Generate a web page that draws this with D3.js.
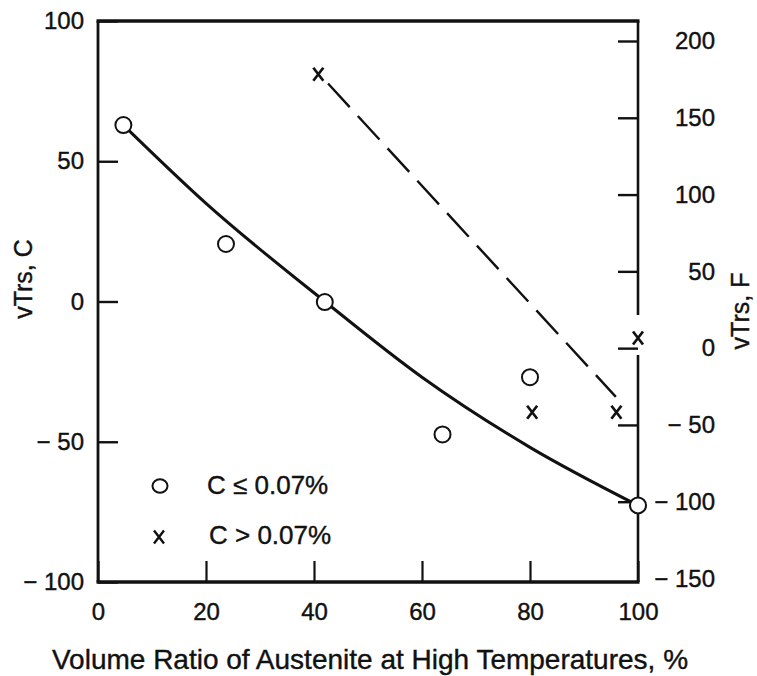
<!DOCTYPE html>
<html>
<head>
<meta charset="utf-8">
<script src="https://cdn.jsdelivr.net/npm/d3@7"></script>
<style>
  body { margin: 0; background: #fff; }
  svg { display: block; font-family: "Liberation Sans", Arial, sans-serif; }
  text { fill: #111; stroke: #111; stroke-width: 0.4; }
</style>
</head>
<body>
<svg width="757" height="676"></svg>
<script>
// values
const lowCX = [4.7, 23.7, 42.0, 63.8, 80.0, 100];     // C <= 0.07%
const lowCY = [62.9, 20.5, -0.2, -47.4, -27.0, -72.7];
const highCX = [40.8, 80.4, 96.0, 100];               // C > 0.07%
const highCY = [81.0, -39.5, -39.5, -13];
const fitX = [4.7, 20, 42, 60, 80, 100];               // solid trend curve
const fitY = [62.9, 35, 0, -27, -52, -72.7];
const dashX = [42.6, 95.9];                            // dashed trend line
const dashY = [77.7, -34];
const xTicks = [0, 20, 40, 60, 80, 100];
const cTicks = [100, 50, 0, -50, -100];
const fTicks = [200, 150, 100, 50, 0, -50, -100, -150];

const svg = d3.select("svg");
const plotL = 98, plotR = 638, plotT = 21, plotB = 582;

const x = d3.scaleLinear().domain([0, 100]).range([plotL, plotR]);
const y = d3.scaleLinear().domain([-100, 100]).range([plotB, plotT]);
// Fahrenheit scale as printed on the right side
const yF = d3.scaleLinear().domain([-150, 200]).range([578.5, 41]);

const minus = d => d < 0 ? "\u2212 " + Math.abs(d) : String(d);

// left axis (C)
const gL = svg.append("g").attr("transform", `translate(${plotL},0)`)
  .call(d3.axisLeft(y).tickValues(cTicks).tickSize(-20).tickPadding(14).tickFormat(minus));
gL.select(".domain").remove();
gL.selectAll(".tick line").attr("stroke", "#111").attr("stroke-width", 2.4);
gL.selectAll(".tick text").attr("font-size", 24);

// bottom axis
const gB = svg.append("g").attr("transform", `translate(0,${plotB})`)
  .call(d3.axisBottom(x).tickValues(xTicks).tickSize(-21).tickPadding(21));
gB.select(".domain").remove();
gB.selectAll(".tick line").attr("stroke", "#111").attr("stroke-width", 2.2);
gB.selectAll(".tick text").attr("font-size", 24);

// right axis (F)
const gR = svg.append("g").attr("transform", `translate(${plotR},0)`)
  .call(d3.axisRight(yF).tickValues(fTicks).tickSize(-20).tickFormat(minus));
gR.select(".domain").remove();
gR.selectAll(".tick line").attr("stroke", "#111").attr("stroke-width", 2.4)
  .attr("display", d => d === -150 ? "none" : null);
gR.selectAll(".tick text").attr("font-size", 24)
  .attr("text-anchor", "end").attr("x", 77);

// frame, right side broken where the last cross sits on it
const gapY = y(highCY[3]);
const frame = svg.append("g").attr("stroke", "#111").attr("fill", "none");
frame.append("line").attr("x1", plotL - 1.5).attr("x2", plotR + 1.5).attr("y1", plotT).attr("y2", plotT).attr("stroke-width", 3.4);
frame.append("line").attr("x1", plotL - 1.5).attr("x2", plotR + 1.5).attr("y1", plotB).attr("y2", plotB).attr("stroke-width", 3.4);
frame.append("line").attr("x1", plotL).attr("x2", plotL).attr("y1", plotT).attr("y2", plotB).attr("stroke-width", 2.8);
frame.append("line").attr("x1", plotR).attr("x2", plotR).attr("y1", plotT).attr("y2", gapY - 23).attr("stroke-width", 2.6);
frame.append("line").attr("x1", plotR).attr("x2", plotR).attr("y1", gapY + 17).attr("y2", plotB).attr("stroke-width", 2.6);

// trend lines
const fitLine = d3.line().x(d => x(d[0])).y(d => y(d[1])).curve(d3.curveMonotoneX);
svg.append("path")
  .attr("d", fitLine(d3.zip(fitX, fitY)))
  .attr("fill", "none").attr("stroke", "#111").attr("stroke-width", 3);

const straight = d3.line().x(d => x(d[0])).y(d => y(d[1]));
svg.append("path")
  .attr("d", straight(d3.zip(dashX, dashY)))
  .attr("fill", "none").attr("stroke", "#111").attr("stroke-width", 2.4)
  .attr("stroke-dasharray", "32,12");

// markers
const cross = (cx, cy, w, h) =>
  `M${cx - w / 2},${cy - h / 2}L${cx + w / 2},${cy + h / 2}M${cx + w / 2},${cy - h / 2}L${cx - w / 2},${cy + h / 2}`;

svg.append("g").selectAll("circle")
  .data(d3.zip(lowCX, lowCY))
  .join("circle")
  .attr("cx", d => x(d[0])).attr("cy", d => y(d[1])).attr("r", 8)
  .attr("fill", "#fff").attr("stroke", "#111").attr("stroke-width", 2);

svg.append("g").selectAll("path")
  .data(d3.zip(highCX, highCY))
  .join("path")
  .attr("d", d => cross(x(d[0]), y(d[1]), 10, 13))
  .attr("fill", "none").attr("stroke", "#111").attr("stroke-width", 2.7);

// legend
const legend = svg.append("g");
legend.append("ellipse").attr("cx", 160).attr("cy", 486).attr("rx", 7.5).attr("ry", 6.8)
  .attr("fill", "#fff").attr("stroke", "#111").attr("stroke-width", 2);
legend.append("text").attr("x", 207).attr("y", 494).attr("font-size", 26)
  .text("C \u2264 0.07%");
legend.append("path").attr("d", cross(159, 537, 10, 13))
  .attr("fill", "none").attr("stroke", "#111").attr("stroke-width", 2.4);
legend.append("text").attr("x", 209).attr("y", 544).attr("font-size", 26)
  .text("C > 0.07%");

// axis titles
svg.append("text")
  .attr("x", 370).attr("y", 669)
  .attr("text-anchor", "middle").attr("font-size", 28)
  .text("Volume Ratio of Austenite at High Temperatures, %");

svg.append("text")
  .attr("transform", "translate(32,279) rotate(-90)")
  .attr("text-anchor", "middle").attr("font-size", 25)
  .text("vTrs, C");

svg.append("text")
  .attr("transform", "translate(749,311) rotate(-90)")
  .attr("text-anchor", "middle").attr("font-size", 25)
  .text("vTrs, F");
</script>
</body>
</html>
